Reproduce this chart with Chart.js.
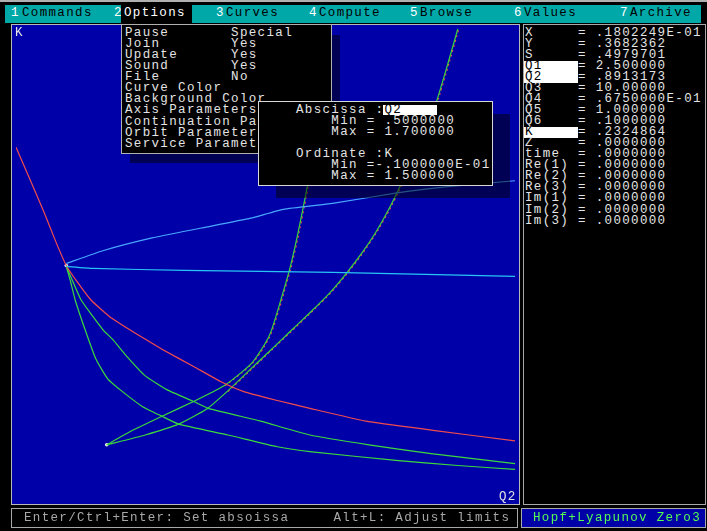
<!DOCTYPE html>
<html>
<head>
<meta charset="utf-8">
<script src="https://cdn.jsdelivr.net/npm/chart.js@4.4.1/dist/chart.umd.min.js"></script>
<style>
  html, body { margin: 0; padding: 0; background: #000; }
  body { width: 707px; height: 531px; position: relative; overflow: hidden; }
  .box { position: absolute; box-sizing: border-box; }
  .t { position: absolute; font: 12.5px "Liberation Mono", "DejaVu Sans Mono", monospace; letter-spacing: 1.34px;
       line-height: 11.06px; white-space: pre; color: #e4e4e4; margin: 0; }
  .shadow { position: absolute; background: rgba(0, 0, 0, 0.5); }
  #plot { left: 11px; top: 24px; width: 509px; height: 481px; border: 1px solid #b8b8b8; background: #0000a8; }
  #plot canvas { display: block; }
</style>
</head>
<body>

<!-- top menu bar -->
<div class="box" style="left:0;top:0;width:707px;height:2px;background:#b0b0b0"></div>
<div class="box" style="left:5px;top:5px;width:696px;height:18px;background:#00a8a8"></div>
<div class="box" style="left:121px;top:5px;width:71px;height:18px;background:#000"></div>
<div class="t" style="left:11px;top:8px;color:#fff">1</div><div class="t" style="left:22px;top:8px;color:#000">Commands</div>
<div class="t" style="left:114px;top:8px;color:#fff">2</div><div class="t" style="left:124px;top:8px;color:#fff">Options</div>
<div class="t" style="left:216px;top:8px;color:#fff">3</div><div class="t" style="left:226px;top:8px;color:#000">Curves</div>
<div class="t" style="left:309px;top:8px;color:#fff">4</div><div class="t" style="left:319px;top:8px;color:#000">Compute</div>
<div class="t" style="left:410px;top:8px;color:#fff">5</div><div class="t" style="left:420px;top:8px;color:#000">Browse</div>
<div class="t" style="left:514px;top:8px;color:#fff">6</div><div class="t" style="left:524px;top:8px;color:#000">Values</div>
<div class="t" style="left:620px;top:8px;color:#fff">7</div><div class="t" style="left:630px;top:8px;color:#000">Archive</div>

<!-- plot -->
<div id="plot" class="box"><canvas id="chart" width="507" height="479"></canvas></div>
<div class="t" style="left:15px;top:28px">K</div>
<div class="t" style="left:499px;top:492px">Q2</div>

<!-- options menu -->
<div class="shadow" style="left:130px;top:35px;width:210px;height:128px"></div>
<div class="box" style="left:121px;top:24px;width:211px;height:130px;background:#000;border:1px solid #b0b0b0;overflow:hidden">
<div class="t" style="left:3px;top:3px">Pause       Special
Join        Yes
Update      Yes
Sound       Yes
File        No
Curve Color
Background Color
Axis Parameters
Continuation Parameters
Orbit Parameters
Service Parameters</div>
</div>

<!-- axis dialog -->
<div class="shadow" style="left:276px;top:114px;width:234px;height:84px"></div>
<div class="box" style="left:258px;top:101px;width:235px;height:85px;background:#000;border:1px solid #d8d8d8"></div>
<div class="box" style="left:383px;top:105px;width:54px;height:10px;background:#fff"></div>
<div class="t" style="left:296px;top:104.5px">Abscissa :<span style="color:#000">Q2</span>
    Min = .5000000
    Max = 1.700000

Ordinate :K
    Min =-.1000000E-01
    Max = 1.500000</div>

<!-- values panel -->
<div class="box" style="left:523px;top:24px;width:183px;height:481px;border:1px solid #a8a8a8;background:#000"></div>
<div class="box" style="left:524px;top:61px;width:54px;height:22px;background:#fff"></div>
<div class="box" style="left:524px;top:127px;width:54px;height:11px;background:#fff"></div>
<div class="t" style="left:525px;top:27.5px">X     = .1802249E-01
Y     = .3682362
S     = .4979701
<span style="color:#000">Q1</span>    = 2.500000
<span style="color:#000">Q2</span>    = .8913173
Q3    = 10.00000
Q4    = .6750000E-01
Q5    = 1.000000
Q6    = .1000000
<span style="color:#000">K</span>     = .2324864
Z     = .0000000
time  = .0000000
Re(1) = .0000000
Re(2) = .0000000
Re(3) = .0000000
Im(1) = .0000000
Im(2) = .0000000
Im(3) = .0000000</div>

<!-- status bar -->
<div class="box" style="left:11px;top:508px;width:507px;height:20px;border:1px solid #a8a8a8;background:#000"></div>
<div class="t" style="left:24px;top:512.5px;color:#a8a8a8">Enter/Ctrl+Enter: Set absoissa     Alt+L: Adjust limits</div>
<div class="box" style="left:521px;top:508px;width:185px;height:20px;border:1px solid #a8a8a8;background:#0000a8"></div>
<div class="t" style="left:533px;top:512.5px;color:#54fc54">Hopf+Lyapunov Zero3</div>

<script>
// axis limits (from the dialog)
const xMin = 0.5, xMax = 1.7;
const yMin = -0.01, yMax = 1.5;

// red curve through the K point
const redX = [0.5000, 0.5308, 0.5664, 0.5949, 0.6209, 0.6494, 0.6802, 0.7253, 0.7727, 0.8154, 0.8510, 0.9292, 0.9933, 1.0478, 1.1284, 1.2067, 1.3419, 1.4984, 1.7000];
const redY = [1.1209, 1.0262, 0.9156, 0.8208, 0.7418, 0.6850, 0.6313, 0.5776, 0.5365, 0.5018, 0.4733, 0.4165, 0.3691, 0.3375, 0.3091, 0.2838, 0.2427, 0.2143, 0.1795];

// cyan, almost flat
const cyanX = [0.6209, 0.6850, 0.9055, 1.0881, 1.2613, 1.4842, 1.7000];
const cyanY = [0.7387, 0.7324, 0.7260, 0.7229, 0.7197, 0.7134, 0.7071];

// light blue, rising
const blueX = [0.6209, 0.7087, 0.8273, 0.9458, 1.0644, 1.1427, 1.2613, 1.4201, 1.5387, 1.7000];
const blueY = [0.7482, 0.7892, 0.8303, 0.8619, 0.8935, 0.9219, 0.9409, 0.9756, 0.9946, 1.0135];

// green curves leaving K downwards
const greenAX = [0.6209, 0.6304, 0.6423, 0.6660, 0.6921, 0.7205, 0.7561, 0.8036, 0.8510, 0.8913, 1.0099, 1.1284, 1.2067, 1.4201, 1.5624, 1.7000];
const greenAY = [0.7387, 0.6945, 0.6313, 0.5365, 0.4417, 0.3786, 0.3375, 0.2901, 0.2585, 0.2332, 0.1985, 0.1606, 0.1448, 0.1164, 0.1006, 0.0879];
const greenBX = [0.6209, 0.6375, 0.6565, 0.7087, 0.7324, 0.7680, 0.8107, 0.8628, 0.9269, 0.9624, 1.0881, 1.2067, 1.3490, 1.4984, 1.7000];
const greenBY = [0.7387, 0.6881, 0.6313, 0.5365, 0.5049, 0.4481, 0.3880, 0.3438, 0.3059, 0.2838, 0.2427, 0.1985, 0.1669, 0.1385, 0.1069];

// green branches out of the cusp
const greenDX = [0.7182, 0.7727, 0.8510, 0.9269, 1.0004, 1.0407, 1.0692, 1.0905, 1.1071, 1.1166, 1.1356, 1.1593, 1.1782, 1.1996, 1.2162, 1.2304];
const greenDY = [0.1669, 0.2080, 0.2585, 0.3059, 0.3564, 0.3975, 0.4323, 0.4733, 0.5112, 0.5428, 0.6250, 0.7355, 0.8461, 0.9882, 1.1051, 1.2157];
const greenEX = [0.7182, 0.8107, 0.8913, 0.9577, 1.0075, 1.0573, 1.1071, 1.1593, 1.2067, 1.2541, 1.2945, 1.3324, 1.3656, 1.3964, 1.4201, 1.4486, 1.4794, 1.5103, 1.5387, 1.5624];
const greenEY = [0.1669, 0.1985, 0.2332, 0.2806, 0.3375, 0.4007, 0.4638, 0.5302, 0.5902, 0.6534, 0.7166, 0.7829, 0.8492, 0.9219, 0.9851, 1.0704, 1.1651, 1.2631, 1.3894, 1.5000];

// red traces lying on top of the two rising green branches
const redDX = [1.0030, 1.0430, 1.0715, 1.0930, 1.1095, 1.1190, 1.1380, 1.1617, 1.1806, 1.2020, 1.2186, 1.2328];
const redDY = [0.3564, 0.3975, 0.4323, 0.4733, 0.5112, 0.5428, 0.6250, 0.7355, 0.8461, 0.9882, 1.1051, 1.2157];
const redEX = [1.0100, 1.0598, 1.1096, 1.1618, 1.2092, 1.2566, 1.2970, 1.3349, 1.3681, 1.3989, 1.4226, 1.4511, 1.4819, 1.5128, 1.5412, 1.5649];
const redEY = [0.3375, 0.4007, 0.4638, 0.5302, 0.5902, 0.6534, 0.7166, 0.7829, 0.8492, 0.9219, 0.9851, 1.0704, 1.1651, 1.2631, 1.3894, 1.5000];

// K point and cusp
const markX = [0.6209, 0.7182];
const markY = [0.7418, 0.1669];

const pts = (xs, ys) => xs.map((x, i) => ({ x: x, y: ys[i] }));

const line = (xs, ys, color, extra) => Object.assign({
  data: pts(xs, ys),
  showLine: true,
  borderColor: color,
  borderWidth: 1.2,
  pointRadius: 0,
  fill: false,
  tension: 0.15
}, extra || {});

new Chart(document.getElementById('chart'), {
  type: 'scatter',
  data: {
    datasets: [
      line(cyanX, cyanY, '#28c4f4'),
      line(blueX, blueY, '#48a8ff'),
      line(redX, redY, '#f04c4c'),
      line(greenAX, greenAY, '#3cd83c'),
      line(greenBX, greenBY, '#3cd83c'),
      line(greenDX, greenDY, '#3cd83c'),
      line(greenEX, greenEY, '#3cd83c'),
      line(redDX, redDY, '#e84848', { borderDash: [2, 3] }),
      line(redEX, redEY, '#e84848', { borderDash: [2, 3] }),
      { data: pts(markX, markY), pointRadius: 1.8, pointBackgroundColor: '#f0f0f0', pointBorderWidth: 0, showLine: false }
    ]
  },
  options: {
    responsive: false,
    animation: false,
    layout: { padding: 0 },
    plugins: { legend: { display: false }, tooltip: { enabled: false } },
    scales: {
      x: { type: 'linear', min: xMin, max: xMax, display: false },
      y: { type: 'linear', min: yMin, max: yMax, display: false }
    }
  }
});
</script>
</body>
</html>
